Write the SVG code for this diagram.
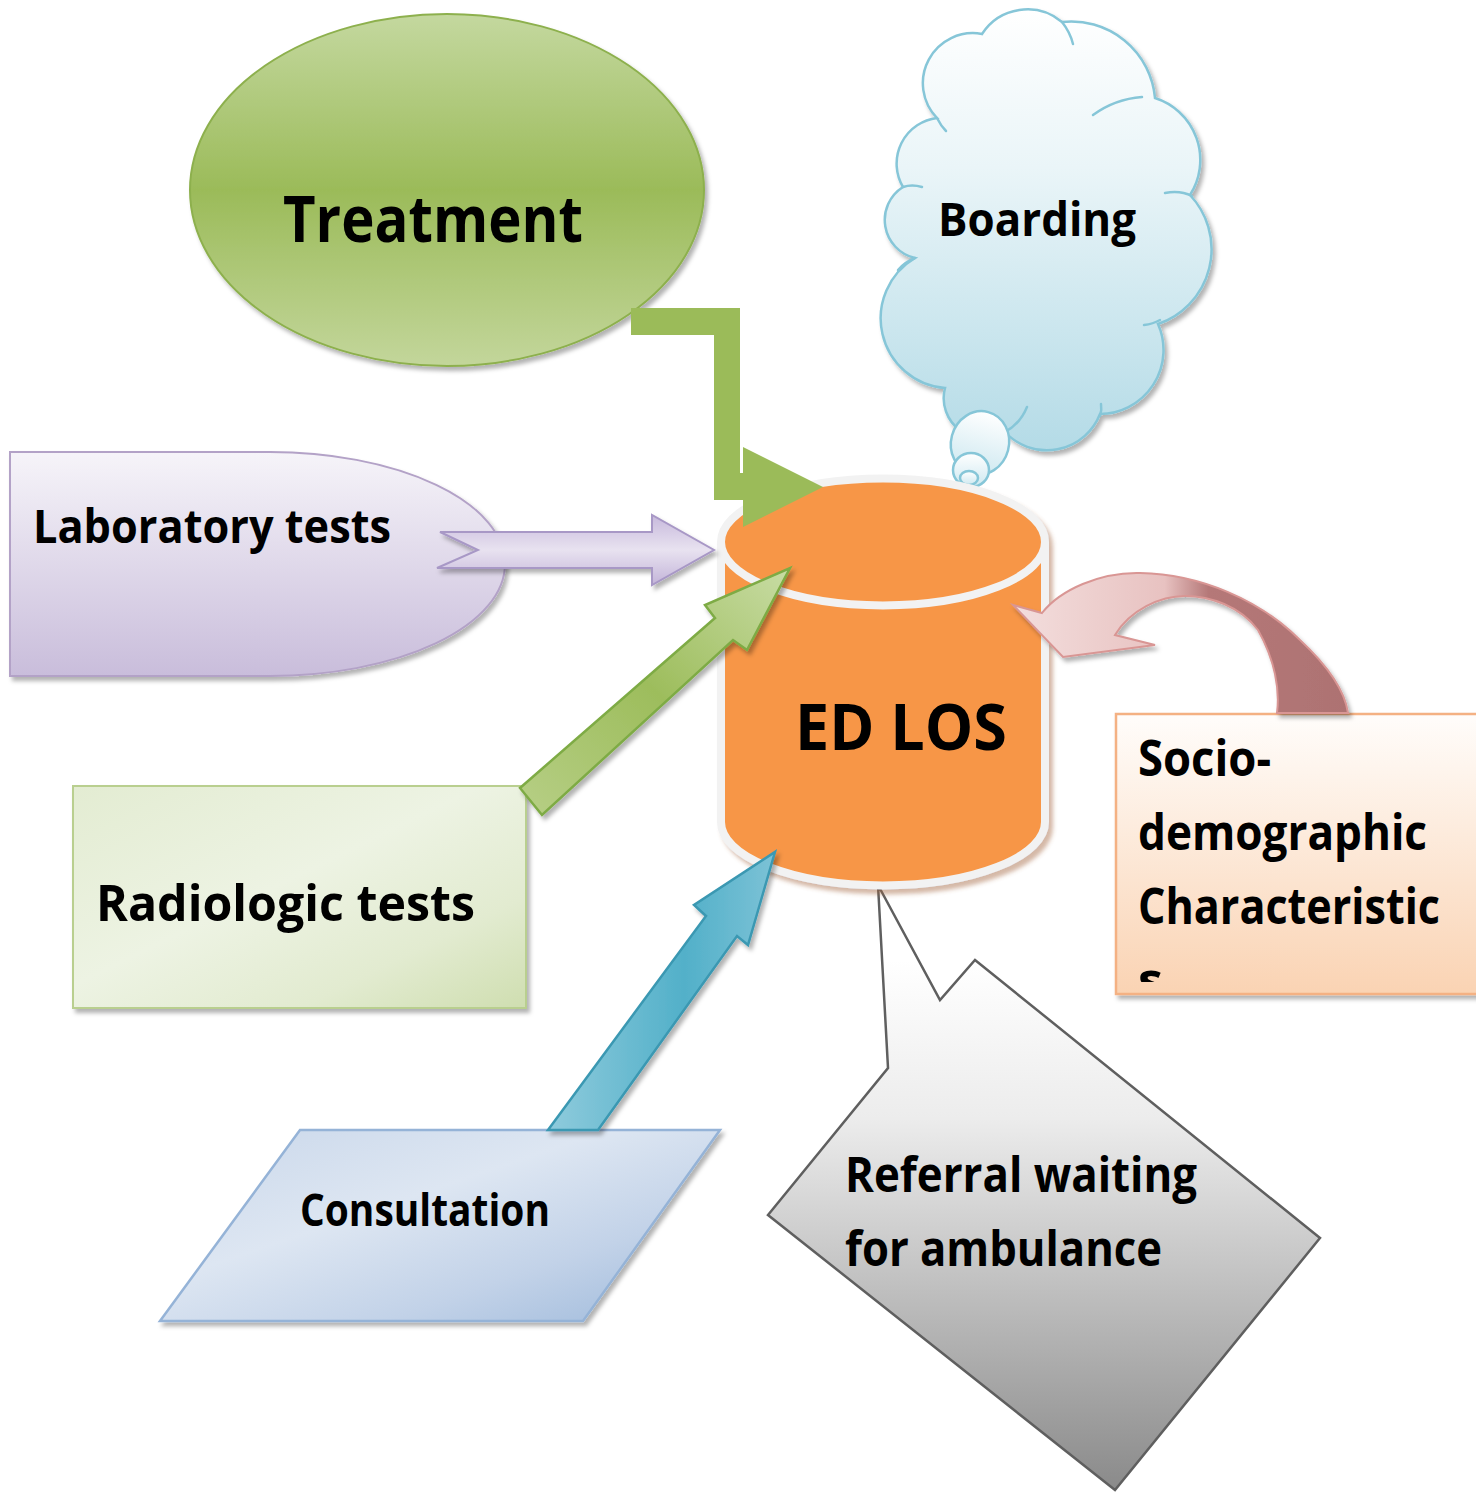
<svg xmlns="http://www.w3.org/2000/svg" width="1476" height="1492" viewBox="0 0 1476 1492">
  <defs>
    <style>
      .lbl { font-family: "Open Sans", Lato, "Liberation Sans", sans-serif; font-weight: 700; fill: #000; }
      .cloudline { fill: none; stroke: #86c6d8; stroke-width: 2.5; stroke-linecap: round; }
    </style>
    <filter id="shadow" x="-10%" y="-10%" width="125%" height="125%">
      <feDropShadow dx="3" dy="4" stdDeviation="2" flood-color="#000" flood-opacity="0.3"/>
    </filter>
    <filter id="cylShadow" x="-10%" y="-10%" width="125%" height="125%">
      <feDropShadow dx="4" dy="5" stdDeviation="2" flood-color="#a0603a" flood-opacity="0.45"/>
    </filter>
    <linearGradient id="gTreat" x1="0" y1="0" x2="0" y2="1">
      <stop offset="0" stop-color="#c4d89f"/>
      <stop offset="0.5" stop-color="#9bbb59"/>
      <stop offset="1" stop-color="#c3d69b"/>
    </linearGradient>
    <linearGradient id="gCloud" gradientUnits="userSpaceOnUse" x1="0" y1="10" x2="0" y2="460">
      <stop offset="0" stop-color="#ffffff"/>
      <stop offset="0.35" stop-color="#eaf5f8"/>
      <stop offset="1" stop-color="#b2dae6"/>
    </linearGradient>
    <linearGradient id="gBubble" x1="0" y1="0" x2="0" y2="1">
      <stop offset="0" stop-color="#ffffff"/>
      <stop offset="1" stop-color="#cde8f0"/>
    </linearGradient>
    <linearGradient id="gLab" x1="0" y1="0" x2="0" y2="1">
      <stop offset="0" stop-color="#f6f4f9"/>
      <stop offset="1" stop-color="#c9bddb"/>
    </linearGradient>
    <linearGradient id="gLabArrow" x1="0" y1="0" x2="0" y2="1">
      <stop offset="0" stop-color="#c7b9dc"/>
      <stop offset="0.5" stop-color="#e8e2f0"/>
      <stop offset="1" stop-color="#c3b4d9"/>
    </linearGradient>
    <linearGradient id="gRad" x1="0" y1="0" x2="1" y2="1">
      <stop offset="0" stop-color="#e3ecd2"/>
      <stop offset="0.45" stop-color="#edf3e3"/>
      <stop offset="0.75" stop-color="#e2ebd0"/>
      <stop offset="1" stop-color="#cfdeb0"/>
    </linearGradient>
    <linearGradient id="gRadArrow" x1="0" y1="1" x2="1" y2="0">
      <stop offset="0" stop-color="#b7cf86"/>
      <stop offset="0.5" stop-color="#9dbd5c"/>
      <stop offset="1" stop-color="#c8dca4"/>
    </linearGradient>
    <linearGradient id="gCons" x1="0" y1="0" x2="1" y2="1">
      <stop offset="0" stop-color="#c9d7ea"/>
      <stop offset="0.4" stop-color="#dde6f2"/>
      <stop offset="0.7" stop-color="#c2d2e8"/>
      <stop offset="1" stop-color="#9cb8da"/>
    </linearGradient>
    <linearGradient id="gConsArrow" x1="0" y1="0" x2="1" y2="0">
      <stop offset="0" stop-color="#8fcbdc"/>
      <stop offset="0.6" stop-color="#52b0c9"/>
      <stop offset="1" stop-color="#7cc2d6"/>
    </linearGradient>
    <linearGradient id="gSocio" x1="0" y1="0" x2="0" y2="1">
      <stop offset="0" stop-color="#fffdfb"/>
      <stop offset="1" stop-color="#fad3b3"/>
    </linearGradient>
    <linearGradient id="gRef" gradientUnits="userSpaceOnUse" x1="0" y1="960" x2="0" y2="1490">
      <stop offset="0" stop-color="#ffffff"/>
      <stop offset="0.3" stop-color="#ececec"/>
      <stop offset="1" stop-color="#8a8a8a"/>
    </linearGradient>
    <linearGradient id="gCurve" gradientUnits="userSpaceOnUse" x1="1013" y1="0" x2="1350" y2="0">
      <stop offset="0" stop-color="#f3dedd"/>
      <stop offset="0.45" stop-color="#e8c2c1"/>
      <stop offset="0.58" stop-color="#b57878"/>
      <stop offset="1" stop-color="#ad7272"/>
    </linearGradient>
    <clipPath id="socioClip">
      <rect x="1116" y="714" width="360" height="268"/>
    </clipPath>
  </defs>

  <rect width="1476" height="1492" fill="#ffffff"/>

  <!-- Boarding thought cloud -->
  <g id="boarding">
    <path d="M937,118 A50,50 0 0 1 982,34 A54,54 0 0 1 1062,22 A84,84 0 0 1 1155,98 A65,65 0 0 1 1190,195 A79,79 0 0 1 1158,324 A64,64 0 0 1 1100,414 A57,57 0 0 1 1005,432 A40,40 0 0 1 945,388 A70,70 0 0 1 915,258 A39,39 0 0 1 903,187 A46,46 0 0 1 937,118 Z" fill="url(#gCloud)" stroke="#86c6d8" stroke-width="2.5" filter="url(#shadow)"/>
    <path class="cloudline" d="M1062,22 Q1070,32 1073,44"/>
    <path class="cloudline" d="M1093,115 Q1115,99 1142,97"/>
    <path class="cloudline" d="M1165,193 Q1180,190 1192,196"/>
    <path class="cloudline" d="M1160,320 Q1153,324 1144,325"/>
    <path class="cloudline" d="M1101,404 Q1102,410 1100,416"/>
    <path class="cloudline" d="M1027,407 Q1020,424 1005,432"/>
    <path class="cloudline" d="M915,258 Q905,262 898,270"/>
    <path class="cloudline" d="M922,187 Q912,184 903,187"/>
    <path class="cloudline" d="M937,118 Q941,126 946,131"/>
    <ellipse cx="980" cy="443" rx="29" ry="32" transform="rotate(15 980 443)" fill="url(#gBubble)" stroke="#86c6d8" stroke-width="2.5"/>
    <ellipse cx="971" cy="470" rx="18" ry="17" fill="url(#gBubble)" stroke="#86c6d8" stroke-width="2.5"/>
    <ellipse cx="969" cy="478" rx="9" ry="7" fill="url(#gBubble)" stroke="#86c6d8" stroke-width="2.5"/>
    <text class="lbl" x="938" y="236" font-size="47" textLength="198" lengthAdjust="spacingAndGlyphs">Boarding</text>
  </g>

  <!-- Treatment ellipse -->
  <g id="treatment">
    <ellipse cx="447" cy="190" rx="257" ry="176" fill="url(#gTreat)" stroke="#8db04d" stroke-width="2" filter="url(#shadow)"/>
    <text class="lbl" x="283" y="242" font-size="65" textLength="300" lengthAdjust="spacingAndGlyphs">Treatment</text>
  </g>

  <!-- Laboratory tests (delay shape) -->
  <g id="laboratory">
    <path d="M10,452 H270 A235,112 0 0 1 270,676 H10 Z" fill="url(#gLab)" stroke="#b3a2c7" stroke-width="2" filter="url(#shadow)"/>
    <text class="lbl" x="33" y="543" font-size="47" textLength="358" lengthAdjust="spacingAndGlyphs">Laboratory tests</text>
  </g>

  <!-- Radiologic tests box -->
  <g id="radiologic">
    <rect x="73" y="786" width="453" height="222" fill="url(#gRad)" stroke="#b9cf8f" stroke-width="2" filter="url(#shadow)"/>
    <text class="lbl" x="96" y="921" font-size="51" textLength="379" lengthAdjust="spacingAndGlyphs">Radiologic tests</text>
  </g>

  <!-- Consultation parallelogram -->
  <g id="consultation">
    <polygon points="300,1130 720,1130 583,1321 160,1321" fill="url(#gCons)" stroke="#95b3d7" stroke-width="2.5" filter="url(#shadow)"/>
    <text class="lbl" x="300" y="1226" font-size="45" textLength="250" lengthAdjust="spacingAndGlyphs">Consultation</text>
  </g>

  <!-- Socio-demographic characteristics box -->
  <g id="sociodemographic">
    <rect x="1116" y="714" width="368" height="280" fill="url(#gSocio)" stroke="#f4b183" stroke-width="2.5" filter="url(#shadow)"/>
    <g clip-path="url(#socioClip)" class="lbl" font-size="50">
      <text x="1138" y="776" textLength="133" lengthAdjust="spacingAndGlyphs">Socio-</text>
      <text x="1138" y="850" textLength="289" lengthAdjust="spacingAndGlyphs">demographic</text>
      <text x="1138" y="924" textLength="302" lengthAdjust="spacingAndGlyphs">Characteristic</text>
      <text x="1138" y="998">s</text>
    </g>
  </g>

  <!-- Referral callout -->
  <g id="referral">
    <polygon points="878,885 940,1000 975,960 1320,1238 1115,1490 768,1215 888,1068" fill="url(#gRef)" stroke="#5f5f5f" stroke-width="2.5" stroke-linejoin="miter"/>
    <text class="lbl" x="845" y="1192" font-size="49" textLength="352" lengthAdjust="spacingAndGlyphs">Referral waiting</text>
    <text class="lbl" x="845" y="1266" font-size="49" textLength="317" lengthAdjust="spacingAndGlyphs">for ambulance</text>
  </g>

  <!-- ED LOS cylinder -->
  <g id="ed-los">
    <path d="M721,542 A161,63 0 0 1 1045,542 V822 A161,63 0 0 1 721,822 Z" fill="#f79646" stroke="#f2f2f2" stroke-width="8" filter="url(#cylShadow)"/>
    <path d="M721,542 A161,63 0 0 0 1045,542" fill="none" stroke="#f2f2f2" stroke-width="8"/>
    <text class="lbl" x="795" y="750" font-size="64" textLength="212" lengthAdjust="spacingAndGlyphs">ED LOS</text>
  </g>

  <!-- Connectors -->
  <g id="connectors">
    <!-- Treatment elbow arrow -->
    <path d="M631,308 H740 V473 H743 V447 L823,487 L743,527 V500 H714 V335 H631 Z" fill="#9bbb59"/>
    <!-- Laboratory tests arrow -->
    <polygon points="440,532 652,532 652,515 714,550 652,585 652,568 437,568 478,550" fill="url(#gLabArrow)" stroke="#a898c6" stroke-width="2" filter="url(#shadow)"/>
    <!-- Radiologic tests arrow -->
    <polygon points="520,788 715,618 705,605 790,568 747,650 733,640 542,815" fill="url(#gRadArrow)" stroke="#7eab45" stroke-width="2.5" stroke-linejoin="miter" filter="url(#shadow)"/>
    <!-- Consultation arrow -->
    <polygon points="548,1130 706,916 694,905 775,852 748,945 737,936 598,1130" fill="url(#gConsArrow)" stroke="#3a98b2" stroke-width="2.5" stroke-linejoin="miter" filter="url(#shadow)"/>
    <!-- Socio-demographic curved arrow -->
    <path d="M1013,605 L1042,613 C1060,590 1100,572 1140,573 C1200,574 1260,600 1300,640 C1330,668 1345,692 1348,713 L1277,713 C1280,690 1275,660 1258,630 C1240,606 1210,596 1185,596 C1160,596 1130,610 1115,635 L1155,645 L1063,657 Z" fill="url(#gCurve)" stroke="#d99694" stroke-width="2" filter="url(#shadow)"/>
  </g>
</svg>
